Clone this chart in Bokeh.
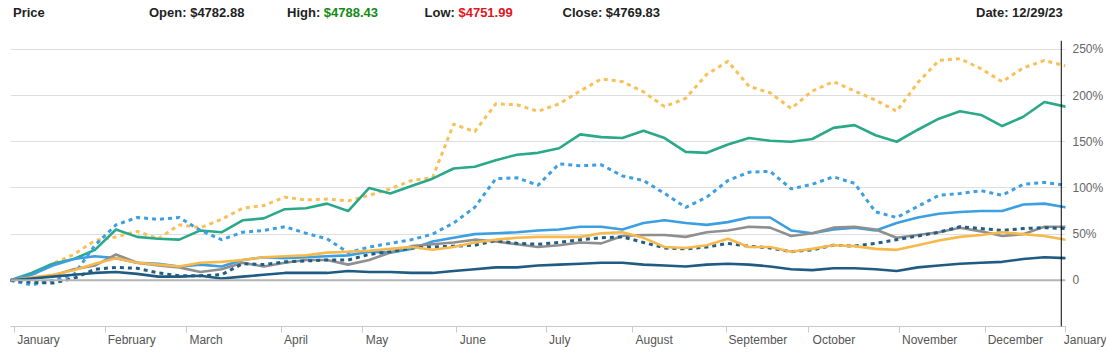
from bokeh.plotting import figure
from bokeh.models import FixedTicker, Span, Range1d, Div
from bokeh.layouts import column
from bokeh.embed import file_html
from bokeh.resources import INLINE

# trading-day index of each sample (every 5th session of 2023)
day_index = list(range(0, 251, 5))

nvda = [0, 5, 18, 28, 43, 47, 53, 45, 60, 57, 66, 78, 81, 90, 87, 88, 86, 92, 99, 108,
        111, 169, 161, 191, 190, 183, 191, 205, 218, 215, 204, 188, 197, 223, 237, 210,
        203, 186, 205, 215, 205, 195, 183, 214, 238, 240, 229, 215, 230, 238, 232]
meta = [0, 8, 18, 23, 33, 55, 47, 45, 44, 54, 52, 65, 67, 77, 78, 83, 75, 100, 94, 102,
        110, 121, 123, 130, 136, 138, 143, 158, 155, 154, 162, 154, 139, 138, 147, 154,
        151, 150, 153, 165, 168, 157, 150, 163, 175, 183, 179, 167, 177, 193, 188]
tsla = [0, -5, 0, 6, 38, 60, 68, 66, 68, 54, 44, 52, 54, 58, 51, 45, 30, 36, 40, 44,
        50, 62, 79, 110, 111, 103, 126, 124, 125, 113, 108, 94, 79, 90, 108, 117, 118,
        99, 104, 112, 105, 74, 68, 80, 92, 94, 97, 92, 104, 106, 103]
amzn = [0, 6, 16, 23, 26, 24, 19, 18, 15, 17, 15, 22, 25, 24, 25, 26, 27, 31, 30, 34,
        42, 46, 50, 51, 52, 54, 55, 58, 58, 55, 62, 65, 62, 60, 63, 68, 68, 54, 51, 55,
        57, 54, 62, 68, 72, 74, 75, 75, 82, 83, 79]
googl = [0, 2, 5, 12, 16, 28, 19, 16, 14, 9, 12, 19, 15, 19, 22, 22, 17, 22, 30, 37,
         39, 41, 44, 42, 39, 36, 38, 41, 40, 48, 49, 49, 47, 52, 54, 58, 57, 48, 51, 57,
         58, 55, 46, 49, 52, 57, 53, 48, 50, 58, 58]
msft = [0, -2, -3, 2, 12, 14, 13, 8, 5, 5, 6, 18, 17, 20, 21, 22, 22, 28, 31, 35, 36,
        37, 38, 43, 40, 39, 41, 44, 46, 47, 41, 35, 34, 36, 40, 37, 35, 31, 33, 38, 37,
        40, 44, 48, 52, 58, 56, 54, 56, 57, 56]
aapl = [0, 3, 6, 11, 18, 24, 19, 17, 15, 19, 20, 22, 25, 26, 27, 30, 31, 32, 34, 36,
        33, 36, 41, 44, 46, 47, 47, 47, 51, 52, 46, 36, 35, 38, 45, 36, 36, 31, 34, 38,
        37, 34, 33, 38, 43, 47, 49, 52, 50, 48, 44]
spx = [0, 2, 4, 6, 8, 9, 7, 4, 4, 5, 2, 4, 6, 8, 8, 8, 10, 9, 9, 8, 8, 10, 12, 14, 14,
       16, 17, 18, 19, 19, 17, 16, 15, 17, 18, 17, 15, 12, 11, 13, 13, 12, 10, 14, 16,
       18, 19, 20, 23, 25, 24]

month_labels = ["January", "February", "March", "April", "May", "June", "July",
                "August", "September", "October", "November", "December", "January"]
month_ticks = [0.95, 22.4, 41.6, 64.1, 83.3, 105.6, 127.0, 147.4, 169.6, 189.2,
               210.7, 231.0, 249.95]
pct_ticks = [0, 50, 100, 150, 200, 250]

header_open = "$4782.88"
header_high = "$4788.43"
header_low = "$4751.99"
header_close = "$4769.83"
header_date = "12/29/23"

FONT = "Liberation Sans"

# --- header -------------------------------------------------------------
def span(left, inner):
    return (f'<span style="position:absolute;left:{left}px;top:-1px;white-space:nowrap">'
            f'{inner}</span>')

html = (
    f'<div style="position:relative;width:1100px;height:30px;font-family:\'{FONT}\',Arial,sans-serif;'
    f'font-weight:bold;font-size:13px;color:#222222">'
    + span(8, "Price")
    + span(144, f"Open: {header_open}")
    + span(282, f'High: <span style="color:#138a13">{header_high}</span>')
    + span(419.5, f'Low: <span style="color:#e3141c">{header_low}</span>')
    + span(557.5, f"Close: {header_close}")
    + span(971, f"Date: {header_date}")
    + "</div>"
)
header = Div(text=html, width=1100, height=30)

# --- main figure --------------------------------------------------------
p = figure(width=1106, height=309, output_backend="svg", toolbar_location=None,
           x_range=Range1d(0, 250), y_range=Range1d(-50, 259.6),
           y_axis_location="right", title=None,
           min_border_left=10, min_border_right=41, min_border_top=0, min_border_bottom=19)
p.outline_line_color = None
p.background_fill_color = "white"
p.border_fill_color = "white"

series = [
    (nvda, "#f9c058", "4 4"),
    (meta, "#29a98a", None),
    (tsla, "#3c9fe1", "4 4"),
    (amzn, "#3c9fe1", None),
    (googl, "#8f8f8f", None),
    (msft, "#215e86", "4 4"),
    (aapl, "#f7b94b", None),
    (spx, "#1f5b82", None),
]
for vals, col, dash in series:
    if dash:
        p.line(day_index, vals, line_color=col, line_width=3, line_dash=dash,
               line_join="round")
    else:
        p.line(day_index, vals, line_color=col, line_width=2.6, line_join="round",
               line_cap="round")

p.add_layout(Span(location=0, dimension="width", line_color="#b3b3b3", line_width=2))
p.add_layout(Span(location=249, dimension="height", line_color="black", line_width=1))

# y axis (right)
yax = p.yaxis[0]
yax.ticker = FixedTicker(ticks=pct_ticks)
yax.major_label_overrides = {t: ("0" if t == 0 else f"{t}%") for t in pct_ticks}
yax.axis_line_color = None
yax.major_tick_line_color = None
yax.major_tick_out = 0
yax.major_tick_in = 0
yax.minor_tick_line_color = None
yax.major_label_standoff = 7
yax.major_label_text_font = FONT
yax.major_label_text_font_size = "12px"
yax.major_label_text_color = "#666666"

p.ygrid.grid_line_color = "#dedede"
p.ygrid.grid_line_width = 1
p.xgrid.grid_line_color = None

# x axis: labels sit just right of each tick (centred text padded with nbsp)
W = {"J": 500, "a": 556, "n": 556, "u": 556, "r": 333, "y": 500, "F": 611, "e": 556,
     "b": 556, "M": 833, "c": 500, "h": 556, "A": 667, "p": 556, "i": 222, "l": 222,
     "t": 278, "S": 667, "m": 833, "O": 778, "o": 556, "N": 722, "v": 500, "D": 722,
     "g": 556, "s": 500}
fs = 12.0
nb = 278 * fs / 1000


def padded(lbl, first=False):
    if first:
        return "\u00a0" * 5 + lbl
    w = sum(W.get(ch, 556) for ch in lbl) * fs / 1000
    n = int(round((w + 6) / nb))
    return "\u00a0" * n + lbl


xax = p.xaxis[0]
xax.ticker = FixedTicker(ticks=month_ticks)
xax.major_label_overrides = {t: padded(l, i == 0)
                             for i, (t, l) in enumerate(zip(month_ticks, month_labels))}
xax.axis_line_color = "#c9c9c9"
xax.major_tick_line_color = "#c9c9c9"
xax.major_tick_out = 6
xax.major_tick_in = 0
xax.minor_tick_line_color = None
xax.major_label_standoff = 0
xax.major_label_text_font = FONT
xax.major_label_text_font_size = "12px"
xax.major_label_text_color = "#555555"

layout = column(header, p, spacing=0)

open("out.html", "w").write(file_html(layout, INLINE))
